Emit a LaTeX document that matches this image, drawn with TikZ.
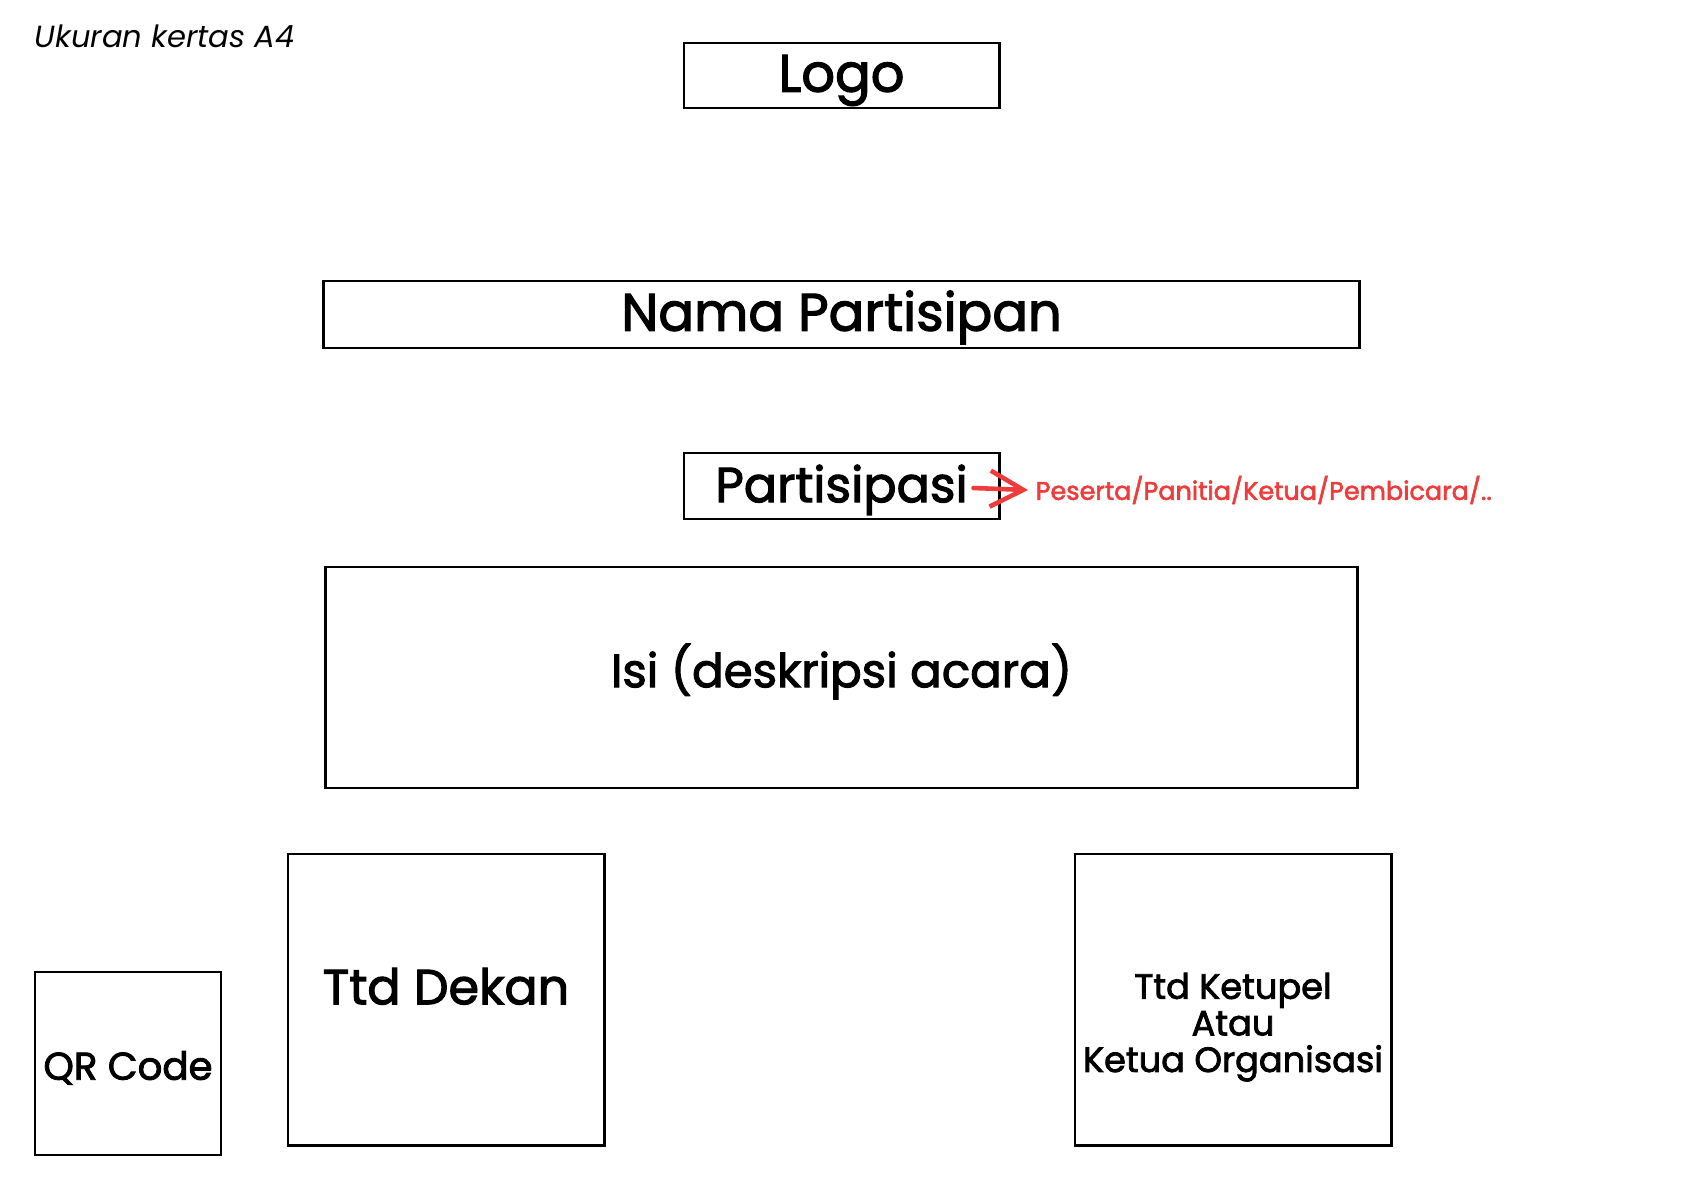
\documentclass[tikz,border=0pt]{standalone}
\usepackage{fontspec}
\setmainfont{Poppins}
\newfontfamily\medfont{Poppins}[FakeBold=2.2]
\usetikzlibrary{arrows.meta, positioning, calc}
\definecolor{notered}{RGB}{238,60,60}

\begin{document}
\begin{tikzpicture}[
  x=0.01cm, y=-0.01cm,
  box/.style    ={draw, line width=0.8pt, align=center, inner sep=0pt,
                  text height=0.92em, text depth=0pt},
  note/.style   ={text=notered, font=\medfont\fontsize{7.25}{9}\selectfont, anchor=west, inner sep=0pt},
  pointer/.style={draw=notered, line width=1.3pt, line cap=round,
                  -{Straight Barb[length=3.3mm, width=3.6mm, line width=1.3pt]}},
]
\useasboundingbox (0,0) rectangle (1683,1190);

% =========================== HEADER =================================
\node[anchor=west, inner sep=0pt, font=\itshape\fontsize{8.7}{10}\selectfont] (paper) at (34,36) {Ukuran kertas A4};

% =========================== BOXES ==================================
\node[box, minimum width=3.15cm, minimum height=0.65cm, font=\medfont\fontsize{15}{18}\selectfont]
  (logo) at (841.5,75.5) {Logo};
\node[box, minimum width=10.35cm, minimum height=0.67cm, font=\medfont\fontsize{15}{18}\selectfont]
  (nama) at (841.5,314.5) {Nama Partisipan};
\node[box, minimum width=3.15cm, minimum height=0.66cm, font=\medfont\fontsize{14}{17}\selectfont]
  (part) at (841.5,486) {Partisipasi};
\node[box, minimum width=10.31cm, minimum height=2.21cm, text depth=3.7pt,
      font=\medfont\fontsize{13.3}{17}\selectfont]
  (isi) at (841.5,677.5) {Isi (deskripsi acara)};

% ========================= SIGNATURES ===============================
\node[box, minimum width=1.86cm, minimum height=1.83cm, font=\medfont\fontsize{11}{14}\selectfont]
  (qr) at (128,1063.5) {QR Code};
\node[box, minimum width=3.16cm, minimum height=2.91cm, text depth=6.5pt,
      font=\medfont\fontsize{14}{17}\selectfont]
  (dekan) at (446,999.5) {Ttd Dekan};
\node[box, minimum width=3.16cm, minimum height=2.91cm, text height=41.2pt, text depth=0pt,
      font=\medfont\fontsize{10}{10.4}\selectfont]
  (ketupel) at (1233,999.5) {Ttd Ketupel\\Atau\\Ketua Organisasi};

% ============================ NOTE ==================================
\node[note] (role) at (1035,490) {Peserta/Panitia/Ketua/Pembicara/..};
\draw[pointer] ($(part.east)+(-27,2)$) -- ([xshift=-2]role.west);

\end{tikzpicture}
\end{document}
